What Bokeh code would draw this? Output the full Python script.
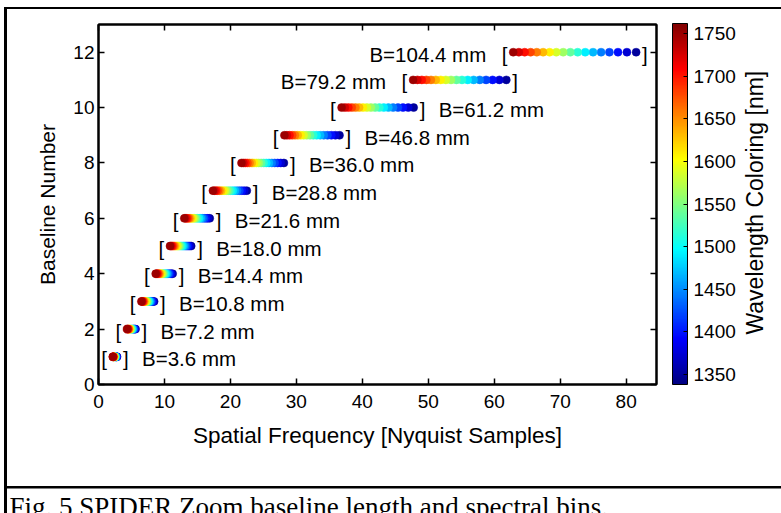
import numpy as np
from bokeh.plotting import figure
from bokeh.layouts import row, column
from bokeh.models import (ColumnDataSource, LinearColorMapper, ColorBar, FixedTicker,
                          LinearAxis, Range1d)
from bokeh.core.properties import value
from bokeh.embed import file_html
from bokeh.resources import INLINE

# ---------------- data ----------------
baseline_number = [1, 2, 3, 4, 5, 6, 7, 8, 9, 10, 11, 12]
baseline_mm = [3.6, 7.2, 10.8, 14.4, 18.0, 21.6, 28.8, 36.0, 46.8, 61.2, 79.2, 104.4]
baseline_labels = ["B=3.6 mm", "B=7.2 mm", "B=10.8 mm", "B=14.4 mm", "B=18.0 mm",
                   "B=21.6 mm", "B=28.8 mm", "B=36.0 mm", "B=46.8 mm", "B=61.2 mm",
                   "B=79.2 mm", "B=104.4 mm"]
label_side = ["right"] * 10 + ["left", "left"]
# spectral bins (nm), plotted short to long so the red end sits on top
wavelength_nm = [1350.0, 1373.5, 1397.1, 1420.6, 1444.1, 1467.6, 1491.2, 1514.7, 1538.2,
                 1561.8, 1585.3, 1608.8, 1632.4, 1655.9, 1679.4, 1702.9, 1726.5, 1750.0]
# spatial frequency [Nyquist samples] = NYQUIST_SCALE * B[mm] / lambda[nm]
NYQUIST_SCALE = 1054.0

x_ticks = [0, 10, 20, 30, 40, 50, 60, 70, 80]
y_ticks = [0, 2, 4, 6, 8, 10, 12]
cbar_ticks = [1350, 1400, 1450, 1500, 1550, 1600, 1650, 1700, 1750]
cbar_low, cbar_high = 1338.2, 1761.8
x_label = "Spatial Frequency [Nyquist Samples]"
y_label = "Baseline Number"
cbar_label = "Wavelength Coloring [nm]"
caption = "Fig. 5 SPIDER  Zoom baseline length and spectral bins."

# ---------------- sources ----------------
px, py, pw = [], [], []
for n, b in zip(baseline_number, baseline_mm):
    for wl in wavelength_nm:
        px.append(NYQUIST_SCALE * b / wl)
        py.append(n)
        pw.append(wl)
pts = ColumnDataSource(dict(x=px, y=py, wl=pw))

xmin = [NYQUIST_SCALE * b / max(wavelength_nm) for b in baseline_mm]
xmax = [NYQUIST_SCALE * b / min(wavelength_nm) for b in baseline_mm]
rows = ColumnDataSource(dict(xmin=xmin, xmax=xmax, y=baseline_number,
                             lb=["["] * 12, rb=["]"] * 12))
right_idx = [i for i, s in enumerate(label_side) if s == "right"]
left_idx = [i for i, s in enumerate(label_side) if s == "left"]
rlab = ColumnDataSource(dict(x=[xmax[i] for i in right_idx],
                             y=[baseline_number[i] for i in right_idx],
                             t=[baseline_labels[i] for i in right_idx]))
llab = ColumnDataSource(dict(x=[xmin[i] for i in left_idx],
                             y=[baseline_number[i] for i in left_idx],
                             t=[baseline_labels[i] for i in left_idx]))

# jet palette
g = np.linspace(0, 1, 256)
def ch(c):
    return np.clip(1.5 - np.abs(4 * g - c), 0, 1)
jet = ["#%02x%02x%02x" % (int(round(r * 255)), int(round(gg * 255)), int(round(bb * 255)))
       for r, gg, bb in zip(ch(3), ch(2), ch(1))]
mapper = LinearColorMapper(palette=jet, low=cbar_low, high=cbar_high)

FONT = "Liberation Sans"

# ---------------- main chart ----------------
p = figure(width=738, height=489, x_range=Range1d(0, 84.6), y_range=Range1d(0, 13),
           output_backend="svg", toolbar_location=None,
           min_border_left=98, min_border_right=82, min_border_top=24, min_border_bottom=105)
p.background_fill_color = "white"
p.border_fill_color = None
p.outline_line_color = "black"
p.outline_line_width = 2
p.xgrid.visible = False
p.ygrid.visible = False

for ax, ticks in ((p.xaxis[0], x_ticks), (p.yaxis[0], y_ticks)):
    ax.ticker = FixedTicker(ticks=ticks)
    ax.minor_tick_line_color = None
    ax.major_tick_in = 6
    ax.major_tick_out = 0
    ax.axis_line_width = 2
    ax.major_tick_line_width = 1.5
    ax.major_label_text_font = FONT
    ax.major_label_text_font_size = "19px"
    ax.major_label_text_color = "black"
    ax.axis_label_text_font = FONT
    ax.axis_label_text_font_style = "normal"
    ax.axis_label_text_color = "black"
p.xaxis[0].axis_label = x_label
p.yaxis[0].axis_label = y_label
p.xaxis[0].axis_label_text_font_size = "22.5px"
p.yaxis[0].axis_label_text_font_size = "21px"
p.xaxis[0].major_label_standoff = 10
p.yaxis[0].major_label_standoff = 4
p.xaxis[0].axis_label_standoff = 12
p.yaxis[0].axis_label_standoff = 11

# mirror ticks on top and right (labels not drawn)
for loc, ticks in (("above", x_ticks), ("right", y_ticks)):
    a = LinearAxis(ticker=FixedTicker(ticks=ticks), major_label_text_color=None,
                   major_label_text_font_size="6px",
                   major_tick_in=6, major_tick_out=0, minor_tick_line_color=None,
                   axis_line_width=2, major_tick_line_width=1.5, major_label_standoff=0)
    p.add_layout(a, loc)

cb = ColorBar(color_mapper=mapper, ticker=FixedTicker(ticks=cbar_ticks),
              width=15, height=361, location=(16, 0), padding=0, margin=0,
              bar_line_color="black", bar_line_width=1,
              major_tick_line_color="black", major_tick_in=4, major_tick_out=0,
              minor_tick_line_color=None, label_standoff=6,
              major_label_text_font=FONT, major_label_text_font_size="19px",
              major_label_text_color="black")
p.add_layout(cb, "right")

# spectral-bin dots
p.scatter("x", "y", source=pts, size=8,
          fill_color={"field": "wl", "transform": mapper},
          line_color={"field": "wl", "transform": mapper}, line_width=0.5)

TXT = dict(text_font=value(FONT), text_font_size=value("20.5px"), text_color="black",
           text_baseline="middle", y_offset=2)
p.text(x="xmin", y="y", text="lb", source=rows, text_align="left", x_offset=-11.6, **TXT)
p.text(x="xmax", y="y", text="rb", source=rows, text_align="left", x_offset=6, **TXT)
p.text(x="x", y="y", text="t", source=rlab, text_align="left", x_offset=25, **TXT)
p.text(x="x", y="y", text="t", source=llab, text_align="right", x_offset=-27, **TXT)

# ---------------- colour-bar title strip ----------------
def blank(w, h):
    f = figure(width=w, height=h, x_range=Range1d(0, w), y_range=Range1d(0, h),
               x_axis_type=None, y_axis_type=None, output_backend="svg",
               toolbar_location=None, min_border=0)
    f.outline_line_color = None
    f.background_fill_color = None
    f.border_fill_color = None
    f.grid.visible = False
    return f

p2 = blank(43, 489)
p2.text(x=[16], y=[247], text=[cbar_label], angle=np.pi / 2,
        text_align="center", text_baseline="middle",
        text_font=value(FONT), text_font_size=value("23px"), text_color="black")

# ---------------- caption strip ----------------
p3 = blank(781, 24)
p3.text(x=[9], y=[6.5], text=[caption], text_align="left", text_baseline="alphabetic",
        text_font=value("Liberation Serif"), text_font_size=value("27px"), text_color="black")

frame_css = ("linear-gradient(#000,#000) 4px 7px/777px 2px no-repeat, "
             "linear-gradient(#000,#000) 4px 7px/3px 506px no-repeat, "
             "linear-gradient(#000,#000) 4px 486px/777px 2.5px no-repeat")
layout = column(row(p, p2), p3, styles={"background": frame_css})

open("out.html", "w").write(file_html(layout, INLINE))
